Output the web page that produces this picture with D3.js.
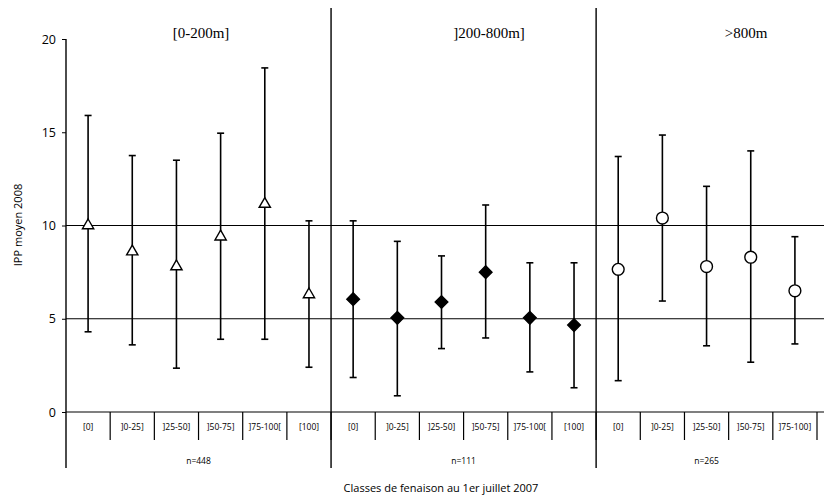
<!DOCTYPE html>
<html>
<head>
<meta charset="utf-8">
<script src="https://cdn.jsdelivr.net/npm/d3@7"></script>
<style>
  body { margin: 0; background: #fff; }
  svg { display: block; }
  .sans { font-family: "Open Sans", "DejaVu Sans", sans-serif; }
  .serif { font-family: "Liberation Serif", "DejaVu Serif", serif; }
</style>
</head>
<body>
<div id="chart"></div>
<script>
// panels (altitude classes)
var panels = ['[0-200m]', ']200-800m]', '>800m'];
var panelN = ['n=448', 'n=111', 'n=265'];
var panelCats = [
  ['[0]', ']0-25]', ']25-50]', ']50-75]', ']75-100[', '[100]'],
  ['[0]', ']0-25]', ']25-50]', ']50-75]', ']75-100[', '[100]'],
  ['[0]', ']0-25]', ']25-50]', ']50-75]', ']75-100]']
];
// mean IPP 2008 and whiskers, per panel
var means = [
  [10.0, 8.6, 7.8, 9.4, 11.15, 6.3],
  [6.05, 5.05, 5.9, 7.5, 5.05, 4.66],
  [7.65, 10.4, 7.8, 8.3, 6.5]
];
var highs = [
  [15.9, 13.75, 13.5, 14.95, 18.45, 10.25],
  [10.25, 9.15, 8.37, 11.1, 8.0, 8.0],
  [13.7, 14.85, 12.1, 14.0, 9.4]
];
var lows = [
  [4.3, 3.6, 2.35, 3.9, 3.9, 2.4],
  [1.85, 0.87, 3.4, 3.97, 2.15, 1.3],
  [1.68, 5.95, 3.55, 2.67, 3.65]
];
var yTicks = [0, 5, 10, 15, 20];
var gridValues = [5, 10];

var width = 835, height = 503;
var x0 = 66, x1 = 817, yTop = 39, yZero = 412;

var rows = [];
panelCats.forEach(function(cats, p) {
  cats.forEach(function(c, i) {
    rows.push({key: p + '-' + i, panel: p, cat: c, mean: means[p][i], hi: highs[p][i], lo: lows[p][i]});
  });
});

var svg = d3.select('#chart').append('svg')
  .attr('width', width).attr('height', height);

var x = d3.scaleBand().domain(rows.map(function(d) { return d.key; })).range([x0, x1]);
var y = d3.scaleLinear().domain([0, 20]).range([yZero, yTop]);

// panel boundaries in pixel terms
var bounds = panels.map(function(p, i) {
  var keys = rows.filter(function(d) { return d.panel === i; }).map(function(d) { return d.key; });
  return {start: x(keys[0]), end: x(keys[keys.length - 1]) + x.bandwidth()};
});

// horizontal reference lines
svg.selectAll('line.grid').data(gridValues).enter().append('line')
  .attr('x1', x0).attr('x2', 824)
  .attr('y1', function(d) { return y(d); }).attr('y2', function(d) { return y(d); })
  .attr('stroke', '#000').attr('stroke-width', 1);

// x axis baseline
svg.append('line').attr('x1', x0).attr('x2', 824).attr('y1', yZero).attr('y2', yZero)
  .attr('stroke', '#000').attr('stroke-width', 1.2);

// y axis
var yAxis = svg.append('g').attr('transform', 'translate(' + x0 + ',0)')
  .call(d3.axisLeft(y).tickValues(yTicks).tickSize(4).tickPadding(6));
yAxis.select('.domain').remove();
yAxis.selectAll('text').attr('class', 'sans').attr('font-size', 12.5).attr('fill', '#000');
yAxis.selectAll('line').attr('stroke', '#000');
svg.append('line').attr('x1', x0).attr('x2', x0).attr('y1', yTop).attr('y2', 468)
  .attr('stroke', '#000').attr('stroke-width', 1.4);

// panel dividers
bounds.slice(1).forEach(function(b) {
  svg.append('line').attr('x1', b.start).attr('x2', b.start).attr('y1', 8).attr('y2', 468)
    .attr('stroke', '#000').attr('stroke-width', 1.4);
});

// category ticks under axis
svg.selectAll('line.cat').data(rows).enter().append('line')
  .attr('x1', function(d) { return x(d.key) + x.bandwidth(); })
  .attr('x2', function(d) { return x(d.key) + x.bandwidth(); })
  .attr('y1', yZero).attr('y2', 440)
  .attr('stroke', '#000').attr('stroke-width', 1.2);

svg.selectAll('text.cat').data(rows).enter().append('text')
  .attr('class', 'sans')
  .attr('x', function(d) { return x(d.key) + x.bandwidth() / 2; })
  .attr('y', 430)
  .attr('text-anchor', 'middle').attr('font-size', 8.5)
  .text(function(d) { return d.cat; });

svg.selectAll('text.n').data(panelN).enter().append('text')
  .attr('class', 'sans')
  .attr('x', function(d, i) { return (bounds[i].start + bounds[i].end) / 2; })
  .attr('y', 464)
  .attr('text-anchor', 'middle').attr('font-size', 8.5)
  .text(function(d) { return d; });

// panel titles
svg.selectAll('text.ptitle').data(panels).enter().append('text')
  .attr('class', 'serif')
  .attr('x', function(d, i) { return [201, 489, 746][i]; })
  .attr('y', 38)
  .attr('text-anchor', 'middle').attr('font-size', 15)
  .text(function(d) { return d; });

// axis titles
svg.append('text').attr('class', 'sans')
  .attr('x', 441).attr('y', 492).attr('text-anchor', 'middle').attr('font-size', 11)
  .text('Classes de fenaison au 1er juillet 2007');
svg.append('text').attr('class', 'sans')
  .attr('transform', 'translate(22,225) rotate(-90)')
  .attr('text-anchor', 'middle').attr('font-size', 11)
  .text('IPP moyen 2008');

// error bars
var bars = svg.selectAll('g.bar').data(rows).enter().append('g')
  .attr('transform', function(d) { return 'translate(' + (x(d.key) + x.bandwidth() / 2) + ',0)'; });
bars.append('line')
  .attr('y1', function(d) { return y(d.hi); }).attr('y2', function(d) { return y(d.lo); })
  .attr('stroke', '#000').attr('stroke-width', 1.6);
bars.append('line').attr('x1', -3.5).attr('x2', 3.5)
  .attr('y1', function(d) { return y(d.hi); }).attr('y2', function(d) { return y(d.hi); })
  .attr('stroke', '#000').attr('stroke-width', 1.6);
bars.append('line').attr('x1', -3.5).attr('x2', 3.5)
  .attr('y1', function(d) { return y(d.lo); }).attr('y2', function(d) { return y(d.lo); })
  .attr('stroke', '#000').attr('stroke-width', 1.6);

// markers: triangles / diamonds (rotated squares) / circles
var symbolTypes = [d3.symbolTriangle, d3.symbolSquare, d3.symbolCircle];
var symbolSizes = [55, 80, 110];
bars.append('path')
  .attr('transform', function(d) { return 'translate(0,' + y(d.mean) + ')' + (d.panel === 1 ? ' rotate(45)' : ''); })
  .attr('d', function(d) { return d3.symbol().type(symbolTypes[d.panel]).size(symbolSizes[d.panel])(); })
  .attr('fill', function(d) { return d.panel === 1 ? '#000' : '#fff'; })
  .attr('stroke', '#000').attr('stroke-width', 1.4);
</script>
</body>
</html>
